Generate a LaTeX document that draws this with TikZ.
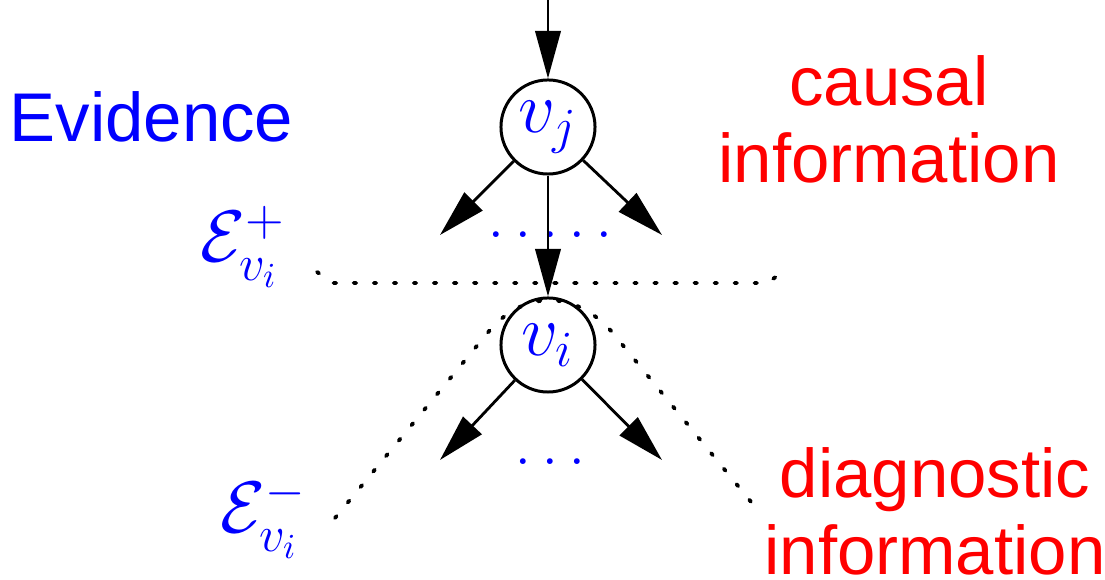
\documentclass[tikz,border=0pt]{standalone}
\usepackage{fontspec}
\setsansfont{Liberation Sans}
\usetikzlibrary{arrows.meta}

\begin{document}
\begin{tikzpicture}[
  x=0.01cm,
  y=-0.01cm,
  >={Triangle[length=13.5pt,width=7.2pt]},
  arc/.style={draw=black, line width=0.8pt, ->},
  var/.style={circle, draw=black, line width=0.85pt, minimum size=0.94cm,
    inner sep=0pt, text=blue, font=\fontsize{20}{24}\selectfont},
  cut/.style={draw=black, line width=1.1pt, line cap=round,
    dash pattern=on 0.7pt off 5pt},
  evlabel/.style={text=blue, inner sep=0pt, font=\fontsize{20}{24}\selectfont},
  ellip/.style={text=blue, inner sep=0pt, font=\fontsize{20}{24}\selectfont},
  info/.style={text=red, align=center, inner sep=0pt,
    font=\sffamily\fontsize{19.6}{21.9}\selectfont}
]
  \useasboundingbox (0,0) rectangle (1105,580);

  % The two variables and the ends of their arcs.
  \node[var] (vj) at (548,127) {$v_j$};
  \node[var] (vi) at (548,345) {$v_i$};
  \coordinate (parent) at (548,0);
  \coordinate (jleft) at (440,235);
  \coordinate (jright) at (662,235);
  \coordinate (ileft) at (440,460);
  \coordinate (iright) at (662,460);

  % Other children of both nodes.
  \node[ellip, anchor=base] (jdots) at (550,238)
    {.\kern2.7pt.\kern2.7pt.\kern2.7pt.\kern2.7pt.};
  \node[ellip, anchor=base] (idots) at (550,465)
    {.\kern2.7pt.\kern2.7pt.};

  % Arcs.
  \draw[arc] (parent) -- (vj);
  \draw[arc] (vj) -- (jleft);
  \draw[arc] (vj) -- (jright);
  \draw[arc] (vj) -- (vi);
  \draw[arc] (vi) -- (ileft);
  \draw[arc] (vi) -- (iright);

  % Cuts separating the evidence.
  \draw[cut] (317,272) -- (333,283) -- (767,283) -- (783,272);
  \draw[cut] (335,518) -- (490,330)
    .. controls (525,290) and (575,290) .. (612,332) -- (756,508);

  % Labels.
  \node[evlabel, anchor=base west] (eplus) at (200,262) {$\mathcal{E}^+_{v_i}$};
  \node[evlabel, anchor=base west] (eminus) at (220,533) {$\mathcal{E}^-_{v_i}$};
  \node[text=blue, inner sep=0pt, anchor=base west,
    font=\sffamily\fontsize{19.6}{21.9}\selectfont] (evidence) at (9,142) {Evidence};
  \node[info, anchor=base] (causal) at (889,183) {causal\\information};
  \node[info, anchor=base] (diag) at (935,575) {diagnostic\\information};

\end{tikzpicture}
\end{document}
